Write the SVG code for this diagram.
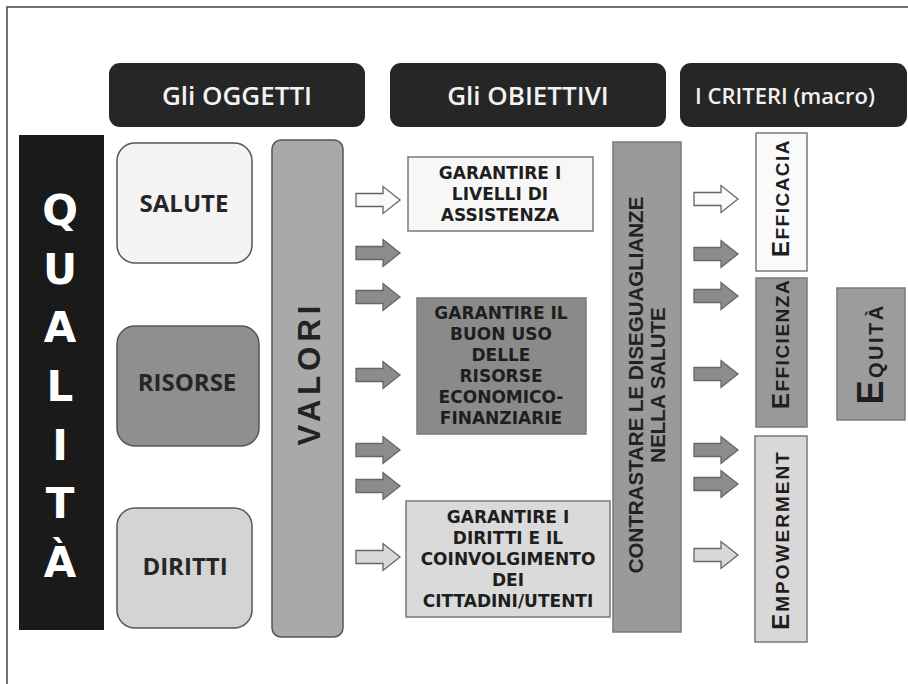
<svg xmlns="http://www.w3.org/2000/svg" width="908" height="684" viewBox="0 0 908 684">
<style>
.hdr{fill:#262626}
.htx{font-family:"Open Sans","Liberation Sans",sans-serif;font-weight:600;fill:#f2f2f2;text-anchor:middle}
.q{font-family:"DejaVu Sans","Liberation Sans",sans-serif;font-weight:bold;font-size:42px;fill:#ffffff;text-anchor:middle}
.obj{font-family:"Open Sans","Liberation Sans",sans-serif;font-weight:700;font-size:24px;fill:#262626;text-anchor:middle}
.gt{font-family:"DejaVu Sans","Liberation Sans",sans-serif;font-weight:bold;font-size:17px;fill:#1e1e1e;text-anchor:middle}
.vt{font-family:"Liberation Sans",Arial,sans-serif;font-weight:bold;fill:#222;text-anchor:middle}
.cr{font-family:"Liberation Sans",Arial,sans-serif;font-weight:bold;fill:#1e1e1e;text-anchor:middle}
.bx{stroke:#555;stroke-width:1.5}
.gb{stroke:#7a7a7a;stroke-width:1.5}
.ar{stroke:#666;stroke-width:1.3}
</style>
<defs>
<path id="arrow" d="M0,-6.5 H27 V-13.5 L44,0 L27,13.5 V6.5 H0 Z"/>
</defs>
<rect width="908" height="684" fill="#ffffff"/>
<path d="M7,684 V7 H908" fill="none" stroke="#444" stroke-width="1.5"/>

<g id="header-oggetti">
<rect class="hdr" x="109" y="63" width="256" height="64" rx="11"/>
<text class="htx" x="237" y="105" font-size="26">Gli OGGETTI</text>
</g>
<g id="header-obiettivi">
<rect class="hdr" x="390" y="63" width="276" height="64" rx="11"/>
<text class="htx" x="528" y="105" font-size="26">Gli OBIETTIVI</text>
</g>
<g id="header-criteri">
<rect class="hdr" x="680" y="63" width="227" height="64" rx="11"/>
<text class="htx" x="785" y="104" font-size="22">I CRITERI (macro)</text>
</g>

<g id="qualita">
<rect x="19" y="135" width="85" height="495" fill="#1a1a1a"/>
<text class="q" x="60" y="225">Q</text>
<text class="q" x="60" y="284">U</text>
<text class="q" x="60" y="342">A</text>
<text class="q" x="60" y="401">L</text>
<text class="q" x="60" y="460">I</text>
<text class="q" x="60" y="518">T</text>
<text class="q" x="60" y="577">À</text>
</g>

<g id="salute">
<rect class="bx" x="117" y="143" width="135" height="120" rx="18" fill="#f4f4f4"/>
<text class="obj" x="184" y="212">SALUTE</text>
</g>
<g id="risorse">
<rect class="bx" x="117" y="326" width="142" height="120" rx="18" fill="#8f8f8f"/>
<text class="obj" x="187" y="391">RISORSE</text>
</g>
<g id="diritti">
<rect class="bx" x="117" y="508" width="135" height="120" rx="18" fill="#d4d4d4"/>
<text class="obj" x="185" y="575">DIRITTI</text>
</g>

<g id="valori">
<rect class="bx" x="272" y="140" width="71" height="497" rx="9" fill="#a9a9a9"/>
<text class="vt" transform="translate(320,373) rotate(-90)" font-size="31" letter-spacing="5">VALORI</text>
</g>

<g id="obj-livelli">
<rect class="gb" x="408" y="157" width="185" height="74" fill="#f7f7f7"/>
<text class="gt" x="500" y="179">GARANTIRE I</text>
<text class="gt" x="500" y="200">LIVELLI DI</text>
<text class="gt" x="500" y="221">ASSISTENZA</text>
</g>
<g id="obj-risorse">
<rect class="gb" x="417" y="298" width="169" height="136" fill="#8a8a8a"/>
<text class="gt" x="501" y="319" fill="#2a2a2a">GARANTIRE IL</text>
<text class="gt" x="501" y="340" fill="#2a2a2a">BUON USO</text>
<text class="gt" x="501" y="361" fill="#2a2a2a">DELLE</text>
<text class="gt" x="501" y="382" fill="#2a2a2a">RISORSE</text>
<text class="gt" x="501" y="403" fill="#2a2a2a">ECONOMICO-</text>
<text class="gt" x="501" y="424" fill="#2a2a2a">FINANZIARIE</text>
</g>
<g id="obj-diritti">
<rect class="gb" x="406" y="501" width="204" height="116" fill="#dadada"/>
<text class="gt" x="508" y="523">GARANTIRE I</text>
<text class="gt" x="508" y="544">DIRITTI E IL</text>
<text class="gt" x="508" y="565">COINVOLGIMENTO</text>
<text class="gt" x="508" y="586">DEI</text>
<text class="gt" x="508" y="607">CITTADINI/UTENTI</text>
</g>

<g id="contrastare">
<rect class="gb" x="613" y="142" width="68" height="490" fill="#9a9a9a"/>
<text class="vt" transform="translate(642.5,385) rotate(-90)" font-size="20.5">CONTRASTARE LE DISEGUAGLIANZE</text>
<text class="vt" transform="translate(664.5,385) rotate(-90)" font-size="20.5">NELLA SALUTE</text>
</g>

<g id="efficacia">
<rect class="gb" x="756" y="133" width="51" height="138" fill="#fafafa"/>
<text class="cr" transform="translate(789,198) rotate(-90)" letter-spacing="1.5"><tspan font-size="24">E</tspan><tspan font-size="19">FFICACIA</tspan></text>
</g>
<g id="efficienza">
<rect class="gb" x="756" y="278" width="51" height="149" fill="#999999"/>
<text class="cr" transform="translate(789,344) rotate(-90)" letter-spacing="1.5"><tspan font-size="24">E</tspan><tspan font-size="19">FFICIENZA</tspan></text>
</g>
<g id="empowerment">
<rect class="gb" x="755" y="436" width="52" height="206" fill="#d8d8d8"/>
<text class="cr" transform="translate(789,540) rotate(-90)" letter-spacing="2"><tspan font-size="24">E</tspan><tspan font-size="19">MPOWERMENT</tspan></text>
</g>
<g id="equita">
<rect class="gb" x="837" y="288" width="68" height="132" fill="#9c9c9c"/>
<text class="cr" transform="translate(883,354) rotate(-90)" letter-spacing="2.5"><tspan font-size="36">E</tspan><tspan font-size="20">QUITÀ</tspan></text>
</g>

<g id="connectors">
<use href="#arrow" x="356" y="200" class="ar" fill="#fafafa"/>
<use href="#arrow" x="356" y="253" class="ar" fill="#8c8c8c"/>
<use href="#arrow" x="356" y="297" class="ar" fill="#8c8c8c"/>
<use href="#arrow" x="356" y="375" class="ar" fill="#8c8c8c"/>
<use href="#arrow" x="356" y="450" class="ar" fill="#8c8c8c"/>
<use href="#arrow" x="356" y="486" class="ar" fill="#8c8c8c"/>
<use href="#arrow" x="356" y="557" class="ar" fill="#d8d8d8"/>
<use href="#arrow" x="694" y="199" class="ar" fill="#fafafa"/>
<use href="#arrow" x="694" y="254" class="ar" fill="#8c8c8c"/>
<use href="#arrow" x="694" y="296" class="ar" fill="#8c8c8c"/>
<use href="#arrow" x="694" y="374" class="ar" fill="#8c8c8c"/>
<use href="#arrow" x="694" y="450" class="ar" fill="#8c8c8c"/>
<use href="#arrow" x="694" y="484" class="ar" fill="#8c8c8c"/>
<use href="#arrow" x="694" y="555" class="ar" fill="#d8d8d8"/>
</g>
</svg>
